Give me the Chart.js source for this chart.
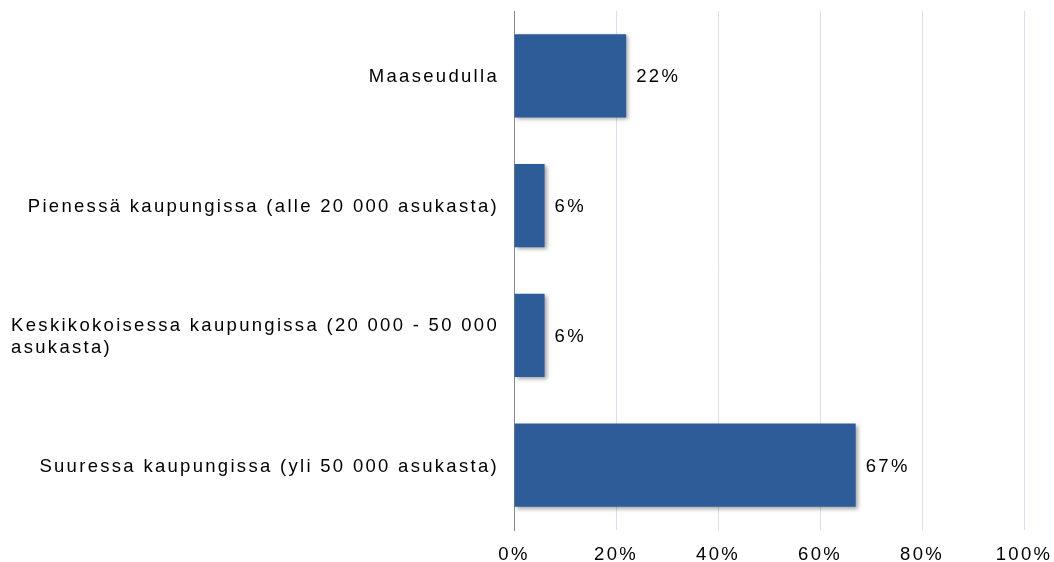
<!DOCTYPE html>
<html>
<head>
<meta charset="utf-8">
<script src="https://cdn.jsdelivr.net/npm/chart.js@4/dist/chart.umd.min.js"></script>
<style>
html,body{margin:0;padding:0;background:#fff;}
#wrap{width:1054px;height:562px;}
</style>
</head>
<body>
<div id="wrap"><canvas id="mycanvas"></canvas></div>
<script>
var categories = [
	["Maaseudulla"],
	["Pienessä kaupungissa (alle 20 000 asukasta)"],
	["Keskikokoisessa kaupungissa (20 000 - 50 000", "asukasta)"],
	["Suuressa kaupungissa (yli 50 000 asukasta)"]
];
var shares = [22, 6, 6, 67];
var xTicks = [0, 20, 40, 60, 80, 100];

var FONT = '18.5px "Liberation Sans", Arial, sans-serif';
var SPACING = '2.3px';

// letter spacing for everything drawn on the canvas
var spacingPlugin = {
	id: 'spacing',
	beforeLayout: function(chart){ chart.ctx.letterSpacing = SPACING; },
	beforeDraw: function(chart){ chart.ctx.letterSpacing = SPACING; }
};

var shadowPlugin = {
	id: 'barShadow',
	beforeDatasetsDraw: function(chart){
		var ctx = chart.ctx;
		ctx.save();
		ctx.shadowColor = 'rgba(0,0,0,0.35)';
		ctx.shadowBlur = 4;
		ctx.shadowOffsetX = 2;
		ctx.shadowOffsetY = 2;
	},
	afterDatasetsDraw: function(chart){
		chart.ctx.restore();
	}
};

// category labels left of the axis, lines left-aligned in a right-aligned block
var catLabels = {
	id: 'catLabels',
	afterDraw: function(chart){
		var ctx = chart.ctx;
		var y = chart.scales.y;
		ctx.save();
		ctx.letterSpacing = SPACING;
		ctx.font = FONT;
		ctx.fillStyle = '#000';
		ctx.textBaseline = 'middle';
		ctx.textAlign = 'left';
		var right = chart.chartArea.left - 17 + 2;
		var lh = 22;
		for (var i = 0; i < categories.length; i++) {
			var lines = categories[i];
			var w = 0;
			for (var j = 0; j < lines.length; j++) w = Math.max(w, ctx.measureText(lines[j]).width);
			var cy = y.getPixelForValue(i) + 1.5;
			var top = cy - (lines.length - 1) * lh / 2;
			for (var j = 0; j < lines.length; j++) ctx.fillText(lines[j], right - w, top + j * lh);
		}
		ctx.restore();
	}
};

var valueLabels = {
	id: 'valueLabels',
	afterDatasetsDraw: function(chart){
		var ctx = chart.ctx;
		var meta = chart.getDatasetMeta(0);
		ctx.save();
		ctx.letterSpacing = SPACING;
		ctx.font = FONT;
		ctx.fillStyle = '#000';
		ctx.textBaseline = 'middle';
		ctx.textAlign = 'left';
		meta.data.forEach(function(bar, i){
			ctx.fillText(shares[i] + '%', bar.x + 10, bar.y + 1.5);
		});
		ctx.restore();
	}
};

Chart.defaults.font.family = '"Liberation Sans", Arial, sans-serif';
Chart.defaults.font.size = 18.5;
Chart.defaults.color = '#000';

var ctx = document.getElementById('mycanvas');
var barGraph = new Chart(ctx, {
	type: 'bar',
	data: {
		labels: categories.map(function(c){ return c.join(' '); }),
		datasets: [{
			data: shares,
			backgroundColor: '#2D5C98',
			borderWidth: 0,
			barPercentage: 0.64,
			categoryPercentage: 1
		}]
	},
	options: {
		indexAxis: 'y',
		responsive: true,
		maintainAspectRatio: false,
		animation: false,
		layout: { padding: { left: 514, right: 30, top: 11, bottom: 0 } },
		plugins: { legend: { display: false }, tooltip: { enabled: false } },
		scales: {
			x: {
				min: 0,
				max: 100,
				afterBuildTicks: function(scale){
					scale.ticks = xTicks.map(function(v){ return { value: v }; });
				},
				afterFit: function(scale){
					scale.height = 32;
					scale.paddingRight = 0;
					scale.paddingLeft = 0;
				},
				ticks: {
					padding: 14,
					maxRotation: 0,
					callback: function(v){ return v + '%'; }
				},
				grid: {
					drawTicks: false,
					color: function(c){ return c.tick && c.tick.value === 0 ? 'rgba(0,0,0,0)' : '#d6e0f0'; },
					lineWidth: 1
				},
				border: { display: false }
			},
			y: {
				ticks: { display: false },
				grid: { display: false, drawTicks: false },
				border: { display: true, color: '#8a8a8a', width: 1 }
			}
		}
	},
	plugins: [spacingPlugin, shadowPlugin, valueLabels, catLabels]
});
</script>
</body>
</html>
